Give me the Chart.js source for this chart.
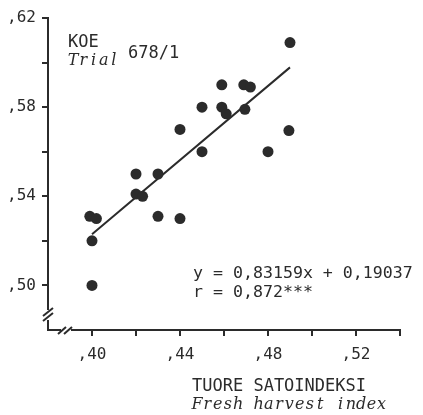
<!DOCTYPE html>
<html>
<head>
<meta charset="utf-8">
<script src="https://cdn.jsdelivr.net/npm/chart.js@4/dist/chart.umd.min.js"></script>
<style>
  html, body { margin: 0; padding: 0; background: #ffffff; }
  #wrap { width: 423px; height: 415px; position: relative; }
</style>
</head>
<body>
<div id="wrap"><canvas id="c"></canvas></div>
<script>
// ---- data ----
const harvestIndex = [0.400, 0.400, 0.399, 0.402, 0.420, 0.423, 0.420, 0.430, 0.430, 0.440, 0.440,
                      0.450, 0.450, 0.459, 0.459, 0.461, 0.469, 0.472, 0.4695, 0.480, 0.490, 0.4895];
const trialValue   = [0.500, 0.520, 0.531, 0.530, 0.541, 0.540, 0.550, 0.550, 0.531, 0.530, 0.570,
                      0.580, 0.560, 0.590, 0.580, 0.577, 0.590, 0.589, 0.579, 0.560, 0.609, 0.5695];
const slope = 0.83159;
const intercept = 0.19037;
const fitRange = [0.40, 0.49];
const xTickValues = [40, 44, 48, 52];
const xTickLabels = [',40', ',44', ',48', ',52'];
const yTickValues = [50, 54, 58, 62];
const yTickLabels = [',50', ',54', ',58', ',62'];
const titleLines = ['KOE', 'Trial', '678/1'];
const equationLines = ['y = 0,83159x + 0,19037', 'r = 0,872***'];
const xTitleLines = ['TUORE SATOINDEKSI', 'Fresh harvest index'];

const INK = '#2b2b2b';
const MONO = '"DejaVu Sans Mono", monospace';
const ITAL = '"DejaVu Serif", serif';

const scatterPts = harvestIndex.map((x, i) => ({ x: x, y: trialValue[i] }));
const fitPts = fitRange.map(x => ({ x: x, y: slope * x + intercept }));

function labelFrom(values, labels) {
  return function (v) {
    const k = Math.round(v * 100);
    const i = values.indexOf(k);
    return i >= 0 ? labels[i] : '';
  };
}

// draw text spaced out like a typewriter (fixed advance per character)
function typeText(ctx, text, x, y, advance) {
  for (let i = 0; i < text.length; i++) {
    const ch = text[i];
    const w = ctx.measureText(ch).width;
    ctx.fillText(ch, x + i * advance + (advance - w) / 2, y);
  }
}

const annotate = {
  id: 'annotate',
  afterDraw(chart) {
    const ctx = chart.ctx;
    const a = chart.chartArea;
    ctx.save();
    ctx.fillStyle = INK;
    ctx.textBaseline = 'alphabetic';
    ctx.textAlign = 'left';
    ctx.font = '17px ' + MONO;
    ctx.fillText(titleLines[0], 68, 47);
    ctx.font = 'italic 16px ' + ITAL;
    typeText(ctx, titleLines[1], 68, 65, 10.2);
    ctx.font = '17px ' + MONO;
    ctx.fillText(titleLines[2], 128, 58);
    ctx.font = '16.6px ' + MONO;
    ctx.fillText(equationLines[0], 193, 278);
    ctx.fillText(equationLines[1], 193, 297);
    ctx.font = '17px ' + MONO;
    ctx.fillText(xTitleLines[0], 192, 391);
    ctx.font = 'italic 16px ' + ITAL;
    typeText(ctx, xTitleLines[1], 192, 409, 10.25);

    // axis break marks
    const xl = a.left, yb = a.bottom;
    ctx.fillStyle = '#ffffff';
    ctx.fillRect(xl - 3, yb - 20, 6, 10);
    ctx.fillRect(xl + 13, yb - 3, 10, 6);
    ctx.strokeStyle = INK;
    ctx.lineWidth = 2;
    ctx.beginPath();
    ctx.moveTo(xl - 5, yb - 9);  ctx.lineTo(xl + 5, yb - 17);
    ctx.moveTo(xl - 5, yb - 14); ctx.lineTo(xl + 5, yb - 22);
    ctx.moveTo(xl + 10, yb + 4); ctx.lineTo(xl + 18, yb - 3);
    ctx.moveTo(xl + 16, yb + 4); ctx.lineTo(xl + 24, yb - 3);
    ctx.stroke();
    ctx.restore();
  }
};

new Chart(document.getElementById('c'), {
  type: 'scatter',
  data: {
    datasets: [
      {
        type: 'scatter',
        data: scatterPts,
        backgroundColor: INK,
        borderColor: INK,
        pointRadius: 5.5,
        pointHoverRadius: 5.5,
        borderWidth: 0
      },
      {
        type: 'line',
        data: fitPts,
        borderColor: INK,
        borderWidth: 2,
        pointRadius: 0,
        fill: false
      }
    ]
  },
  options: {
    responsive: true,
    maintainAspectRatio: false,
    animation: false,
    events: [],
    layout: { padding: { top: 18, right: 23, left: 0, bottom: 0 } },
    plugins: { legend: { display: false }, tooltip: { enabled: false } },
    scales: {
      x: {
        type: 'linear',
        min: 0.38, max: 0.54,
        afterFit(s) { s.height = 85; },
        border: { display: true, color: INK, width: 2 },
        grid: {
          drawOnChartArea: false, drawTicks: true, tickLength: 6, lineWidth: 2,
          color: c => (c.tick && c.tick.value < 0.39) ? 'rgba(0,0,0,0)' : INK,
          tickColor: c => (c.tick && c.tick.value < 0.39) ? 'rgba(0,0,0,0)' : INK
        },
        ticks: {
          stepSize: 0.02, autoSkip: false, maxRotation: 0, padding: 9,
          color: INK, font: { family: MONO, size: 16 },
          callback: labelFrom(xTickValues, xTickLabels)
        }
      },
      y: {
        type: 'linear',
        min: 0.48, max: 0.62,
        afterFit(s) { s.width = 48; },
        border: { display: true, color: INK, width: 2 },
        grid: {
          drawOnChartArea: false, drawTicks: true, tickLength: 6, lineWidth: 2,
          color: c => (c.tick && c.tick.value < 0.49) ? 'rgba(0,0,0,0)' : INK,
          tickColor: c => (c.tick && c.tick.value < 0.49) ? 'rgba(0,0,0,0)' : INK
        },
        ticks: {
          stepSize: 0.02, autoSkip: false, padding: 6,
          color: INK, font: { family: MONO, size: 16 },
          callback: labelFrom(yTickValues, yTickLabels)
        }
      }
    }
  },
  plugins: [annotate]
});
</script>
</body>
</html>
